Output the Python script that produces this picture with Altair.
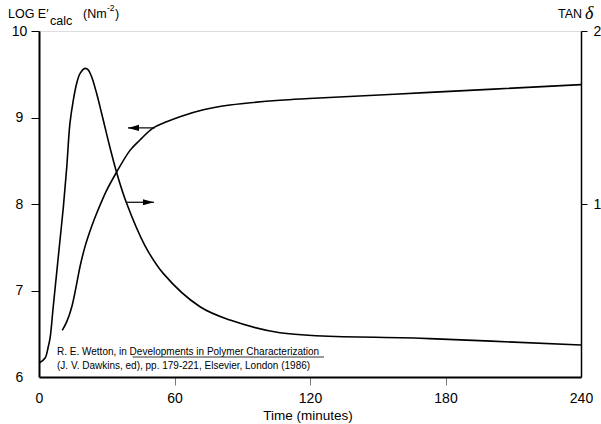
import altair as alt
import pandas as pd

# ---- data ----
x_ticks = [0, 60, 120, 180, 240]
left_ticks = [6, 7, 8, 9, 10]
right_ticks = [1, 2]

time_E = [10.3, 12.3, 14.5, 16.7, 18.2, 20.4, 23.3, 25.5, 30.0, 34.4, 40.3, 44.7,
          50.6, 56.5, 62.4, 72.8, 84.6, 106.7, 119.6, 173.0, 240.0]
log_E = [6.54, 6.64, 6.81, 7.08, 7.28, 7.51, 7.74, 7.89, 8.16, 8.37, 8.62, 8.74,
         8.88, 8.95, 9.01, 9.09, 9.145, 9.20, 9.22, 9.29, 9.38]

time_tan = [0, 2.7, 4.1, 4.9, 6.3, 7.8, 9.3, 10.8, 12.3, 13.7, 15.2, 16.7, 18.2,
            20.4, 21.8, 23.3, 25.5, 27.8, 31.4, 34.4, 38.8, 46.9, 55.0, 71.3,
            84.6, 106.7, 173.0, 240.0]
tan_delta = [0.08, 0.11, 0.175, 0.224, 0.406, 0.599, 0.792, 0.984, 1.216, 1.466,
             1.601, 1.698, 1.755, 1.784, 1.775, 1.736, 1.640, 1.520, 1.328, 1.181,
             1.004, 0.760, 0.599, 0.406, 0.329, 0.256, 0.222, 0.185]

arrow_level = [8.88, 8.02]      # log E' level of each arrow
arrow_start = [51.3, 38.8]      # time at tail
arrow_tip = [39.4, 50.9]        # time at head
arrow_dir = ["left", "right"]

citation_1 = "R. E. Wetton, in Developments in Polymer Characterization"
citation_2 = "(J. V. Dawkins, ed), pp. 179-221, Elsevier, London (1986)"

FONT = "Liberation Sans"

dfE = pd.DataFrame({"time": time_E, "val": log_E})
dfT = pd.DataFrame({"time": time_tan, "val": tan_delta})
dfA = pd.DataFrame({"level": arrow_level, "t0": arrow_start, "t1": arrow_tip, "dir": arrow_dir})

xscale = alt.Scale(domain=[0, 240], nice=False, zero=False)
xaxis = alt.Axis(values=x_ticks, title=None, grid=False, labelFont=FONT, labelFontSize=14,
                 labelColor="black", labelPadding=6, labelFlush=False, tickSize=8,
                 tickColor="#777777", tickWidth=1, domainColor="black", domainWidth=2,
                 tickOpacity={"condition": {"test": "datum.value == 0 || datum.value == 240", "value": 0}, "value": 1})
lscale = alt.Scale(domain=[6, 10], nice=False, zero=False)
laxis = alt.Axis(values=left_ticks, format="d", title=None, grid=False, labelFont=FONT, labelFontSize=14,
                 labelColor="black", labelAlign="center", labelPadding=12, labelFlush=False,
                 tickSize=8, tickColor="black", tickWidth=1, domainColor="black", domainWidth=2,
                 tickOpacity={"condition": {"test": "datum.value == 6", "value": 0}, "value": 1})
rscale = alt.Scale(domain=[0, 2], nice=False, zero=False)
raxis = alt.Axis(orient="right", values=right_ticks, format="d", title=None, grid=False, labelFont=FONT,
                 labelFontSize=14, labelColor="black", labelAlign="left", labelPadding=6,
                 labelFlush=False, tickSize=6, tickColor="black", tickWidth=1,
                 domainColor="black", domainWidth=1.5)

lineE = alt.Chart(dfE).mark_line(color="black", strokeWidth=1.6, interpolate="catmull-rom").encode(
    x=alt.X("time:Q", scale=xscale, axis=xaxis),
    y=alt.Y("val:Q", scale=lscale, axis=laxis),
)

arrows = alt.Chart(dfA).mark_rule(color="black", strokeWidth=1.2).encode(
    x=alt.X("t0:Q", scale=xscale),
    x2="t1:Q",
    y=alt.Y("level:Q", scale=lscale),
)
headL = alt.Chart(dfA).transform_filter("datum.dir == 'left'").mark_point(
    shape="M 0 0 L 2 -0.55 L 2 0.55 Z", filled=True, color="black", opacity=1, size=121, strokeWidth=0
).encode(x=alt.X("t1:Q", scale=xscale), y=alt.Y("level:Q", scale=lscale))
headR = alt.Chart(dfA).transform_filter("datum.dir == 'right'").mark_point(
    shape="M 0 0 L -2 -0.55 L -2 0.55 Z", filled=True, color="black", opacity=1, size=121, strokeWidth=0
).encode(x=alt.X("t1:Q", scale=xscale), y=alt.Y("level:Q", scale=lscale))

left_group = alt.layer(lineE, arrows, headL, headR)

lineT = alt.Chart(dfT).mark_line(color="black", strokeWidth=1.6, interpolate="catmull-rom").encode(
    x=alt.X("time:Q", scale=xscale),
    y=alt.Y("val:Q", scale=rscale, axis=raxis),
)

one = pd.DataFrame({"k": [0]})


def txt(s, x, y, size=12, align="left", font=FONT, style="normal"):
    return alt.Chart(one).mark_text(text=s, align=align, baseline="alphabetic", font=font,
                                    fontSize=size, fontStyle=style, color="black").encode(
        x=alt.value(x), y=alt.value(y))


labels = [
    txt("LOG E\u2032", -31, -13, 12.5),
    txt("calc", 11, -6, 12.5),
    txt("(Nm", 44, -13, 12.5),
    txt("-2", 68, -20, 8.5),
    txt(")", 76, -13, 12.5),
    txt("TAN", 519, -13, 12.5),
    txt("\u03b4", 546, -12, 18, font="Liberation Serif", style="italic"),
    txt("Time (minutes)", 269, 389, 13.5, align="center"),
    txt(citation_1, 18, 324, 10),
    txt(citation_2, 18, 338, 10),
]
underline = alt.Chart(one).mark_rule(color="black", strokeWidth=0.8).encode(
    x=alt.value(93.6), x2=alt.value(285), y=alt.value(326))

chart = alt.layer(left_group, lineT, *labels, underline).resolve_scale(y="independent").properties(
    width=542, height=346,
    autosize=alt.AutoSizeParams(type="none"),
    padding={"left": 39, "top": 31, "right": 20, "bottom": 47},
).configure_view(stroke="black", strokeWidth=1.5).configure(background="white")

chart.save("out.html", embed_options={"renderer": "svg", "actions": False})
